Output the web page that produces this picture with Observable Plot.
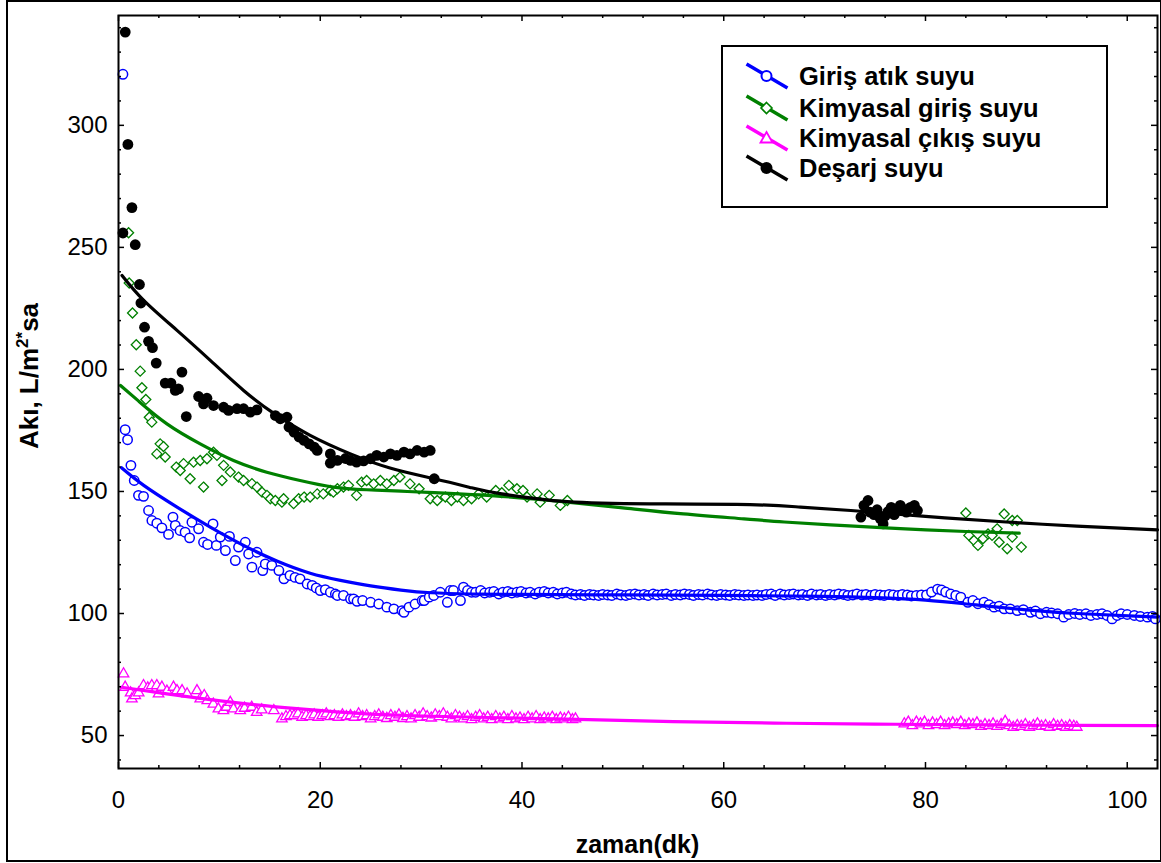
<!DOCTYPE html>
<html>
<head>
<meta charset="utf-8">
<script src="https://cdn.jsdelivr.net/npm/d3@7"></script>
<script src="https://cdn.jsdelivr.net/npm/@observablehq/plot@0.6"></script>
<style>
  body { margin: 0; background: #fff; }
  #wrap { position: relative; width: 1161px; height: 863px; font-family: "Liberation Sans", Arial, sans-serif; }
  #border { position: absolute; left: 6px; top: 0; width: 1156px; height: 862px; border: 2px solid #000; box-sizing: border-box; pointer-events: none; }
  #legend { position: absolute; left: 721px; top: 45px; width: 387px; height: 163px; border: 2.5px solid #000; box-sizing: border-box; background: #fff; }
  .row { position: absolute; left: 22px; height: 30px; display: flex; align-items: center; }
  .row span { margin-left: 10px; font-weight: bold; font-size: 25.5px; line-height: 30px; color: #000; white-space: nowrap; }
</style>
</head>
<body>
<div id="wrap">
  <div id="chart"></div>
  <div id="border"></div>
  <div id="legend"></div>
</div>
<script>
// ---------- data (x = zaman dk, y = Akı L/m2*sa) ----------
const seriesNames = ["Giriş atık suyu", "Kimyasal giriş suyu", "Kimyasal çıkış suyu", "Deşarj suyu"];

const girisAtik = [
  [0.44,320.9],[0.66,175.3],[0.9,171.2],[1.23,160.7],[1.56,154.5],[1.98,148.4],[2.48,148],[2.98,142.2],[3.31,138.1],[3.8,137],
  [4.3,135.1],[4.96,132.4],[5.4,139.5],[5.63,136.1],[6.1,134],[6.6,133.3],[7.05,131],[7.28,137.4],[7.94,134.7],[8.43,129.2],
  [8.83,128.3],[9.37,136.7],[9.7,127.9],[10.09,131.3],[10.6,125.8],[11.0,131.6],[11.58,121.7],[11.9,127.2],[12.57,129.2],[12.9,124.4],
  [13.23,119],[13.73,125.1],[14.3,117.6],[14.55,120.3],[15.2,119.7],[15.9,117.6],[16.4,114.2],[17.0,115.6],[17.5,114.8],[18.0,114.2],
  [18.7,112.1],[19.2,111.5],[19.6,110.5],[20.0,109.4],[20.5,109.8],[21.0,108.7],[21.5,108],[21.7,107.4],[22.3,107.4],[23.0,106],
  [23.3,106],[23.65,105],[24.2,105.3],[25.0,104.6],[25.8,103.9],[26.6,102.6],[27.3,101.9],[28.1,101.2],[28.3,100.5],[28.8,102.6],
  [29.4,103.9],[30.1,105.3],[30.3,105.3],[30.8,106.7],[31.25,107.4],[31.9,108.7],[32.6,104.6],[32.9,109.4],[33.2,109.4],[33.9,105.3],
  [34.2,110.8],[34.6,109.4],[35.0,108.7],
  [35.4,108.7],[35.9,109.4],[36.3,108.4],[36.8,108.7],[37.2,109.0],[37.7,108.0],[38.1,108.7],[38.6,109.0],[39.0,108.4],[39.5,108.7],
  [39.9,109.0],[40.4,108.4],[40.8,108.7],[41.3,108.0],[41.7,108.7],[42.2,109.0],[42.6,108.4],[43.1,108.7],[43.5,108.0],[44.0,108.4],
  [44.4,108.7],[44.9,108.0],[45.3,107.6],[45.8,107.8],[46.2,107.4],[46.7,107.8],[47.1,107.6],[47.6,107.4],[48.0,107.8],[48.5,107.6],
  [48.9,107.4],[49.4,108.0],[49.8,107.6],[50.3,107.4],[50.7,107.8],[51.2,108.0],[51.6,107.6],[52.1,107.8],[52.5,107.4],[53.0,108.0],
  [53.4,107.6],[53.9,107.8],[54.3,108.0],[54.8,107.4],[55.2,107.8],[55.7,107.6],[56.1,108.0],[56.6,107.8],[57.0,107.4],[57.5,107.8],
  [57.9,107.6],[58.4,108.0],[58.8,107.6],[59.3,107.4],[59.7,107.8],[60.2,107.6],[60.6,107.4],[61.1,107.8],[61.5,107.6],[62.0,107.4],
  [62.4,107.6],[62.9,107.4],[63.3,107.6],[63.8,107.4],[64.2,107.8],[64.7,108.0],[65.1,107.4],[65.6,108.0],[66.0,107.6],[66.5,107.8],
  [66.9,108.0],[67.4,107.6],[67.8,107.8],[68.3,107.4],[68.7,108.0],[69.2,107.6],[69.6,107.8],[70.1,107.4],[70.5,107.8],[71.0,107.6],
  [71.4,108.0],[71.9,107.8],[72.3,107.4],[72.8,107.6],[73.2,108.0],[73.7,107.6],[74.1,107.8],[74.6,107.4],[75.0,107.8],[75.5,107.6],
  [75.9,107.4],[76.4,107.8],[76.8,107.6],[77.3,107.4],[77.7,107.8],[78.2,107.6],[78.6,107.2],[79.1,107.4],[79.6,107.6],
  [80.1,107.6],[80.6,108.8],[81.2,110],[81.6,109.6],[82.0,108.8],[82.5,108],[83.0,107.4],[83.5,106.7],[84.2,104.6],[84.7,105.3],
  [85.2,104.0],[85.8,104.6],[86.3,103.6],[86.8,102.6],[87.3,103.0],[87.8,101.9],[88.4,101.9],[89.1,101.2],[89.7,101.6],[90.4,100.5],
  [90.9,101.0],[91.4,99.9],[92.0,100.5],[92.5,100.2],[93.1,99.9],[93.7,98.5],[94.2,99.6],[94.8,100.0],[95.3,99.6],[95.9,99.9],
  [96.4,99.2],[97.0,99.6],[97.5,99.9],[98.0,99.2],[98.5,97.8],[99.0,99.2],[99.4,99.9],[100.0,99.6],[100.7,99.2],[101.3,98.8],
  [102.0,98.5],[102.5,98.8],[102.8,97.8]
];

const kimyasalGiris = [
  [1.0,256],[1.06,235.4],[1.39,223.1],[1.76,210.1],[2.15,199.3],[2.32,192.5],[2.71,187.7],[3.05,180.4],[3.3,178.4],[3.8,165.4],
  [4.13,169.5],[4.46,168.4],[4.63,164.1],[5.72,160],[6.12,158.6],[6.45,161.4],[7.1,155.2],[7.44,162],[8.1,162.7],[8.43,151.8],
  [8.77,163.4],[9.42,166.1],[9.76,164.8],[10.26,154.5],[10.42,160.7],[11.08,158],[11.9,155.9],[12.4,154.5],[13.23,153.2],[13.73,151.8],
  [14.23,149.7],[14.72,148.4],[15.05,147],[15.55,146.3],[16.2,145.6],[16.37,147],[17.36,145],[17.86,147],[18.4,147.7],[19.0,147.7],
  [19.7,149],[20.3,149],[21.0,150.4],[21.3,149.7],[21.7,151.1],[22.3,151.8],[22.8,152.5],[23.6,148.4],[24.1,153.8],[24.6,154.5],
  [25.3,153.1],[25.96,154.5],[26.6,153.1],[27.3,154.5],[27.9,155.9],[28.9,153.1],[29.8,151.1],[30.9,147],[31.6,146.3],[32.4,147.7],
  [33.0,146.3],[33.6,147.7],[34.2,146.3],[35.0,147],[35.7,149],[36.5,147.7],[37.4,150.4],[38.0,149.5],[38.7,152.5],[39.5,151.1],
  [40.1,150.4],[40.5,147.7],[41.5,149],[41.8,145.6],[42.7,148.4],[43.8,144.3],[44.5,146.3],
  [84.0,141.2],[84.3,132],[84.8,129.9],[85.2,127.9],[85.7,130.6],[86.2,132.6],[86.6,132],[87.1,134.7],[87.3,129.2],[87.8,140.8],
  [88.1,126.5],[88.6,131.3],[88.6,138.1],[89.1,138.1],[89.5,127.2]
];

const kimyasalCikis = [
  [0.5,75.3],[0.66,69.8],[1.2,67.5],[1.33,65],[1.66,66.4],[2.0,67.5],[2.48,70.5],[2.9,69.5],[3.3,70.5],[3.8,70.5],
  [3.97,67.1],[4.3,69.8],[4.8,68.2],[5.45,69.8],[5.8,68.4],[6.3,68.4],[6.8,67.1],[7.78,68.4],[8.1,65],[8.5,66.4],
  [8.8,64.3],[9.4,62.9],[9.9,60.9],[10.4,60.2],[10.7,61.6],[11.08,63.6],[11.4,60.9],[12.07,60.2],[12.5,61.2],[13.2,61.6],
  [13.7,59.5],[14.2,60.5],[15.4,60.2],[16.2,56.8],[16.6,57.8],[17.0,58.2],[17.4,58.2],[17.8,58.9],
  [18.2,57.5],[18.6,58.2],[19.0,57.8],[19.4,58.5],[19.8,57.5],[20.2,58.2],[20.6,58.9],[21.0,57.8],[21.4,58.2],[21.8,57.5],
  [22.2,58.5],[22.6,57.8],[23.0,58.2],[23.4,57.5],[23.8,58.9],[24.2,57.8],[24.6,58.2],[25.0,56.8],[25.4,57.8],[25.8,58.5],
  [26.2,57.5],[26.6,57.0],[27.0,58.2],[27.4,57.5],[27.8,58.5],[28.2,57.0],[28.6,57.8],[29.0,56.8],[29.4,58.2],[29.8,57.5],
  [30.2,58.9],[30.6,57.8],[31.0,57.2],[31.4,58.5],[31.8,57.8],[32.2,58.9],[32.6,57.5],[33.0,56.8],[33.4,58.2],[33.8,57.5],
  [34.2,56.8],[34.6,57.8],[35.0,56.5],[35.4,57.5],[35.8,58.2],[36.2,56.8],[36.6,57.5],[37.0,56.5],[37.4,57.8],[37.8,56.8],
  [38.2,57.5],[38.6,56.5],[39.0,57.8],[39.4,56.8],[39.8,57.2],[40.2,56.5],[40.6,57.5],[41.0,56.8],[41.4,57.8],[41.8,56.5],
  [42.2,57.2],[42.6,56.8],[43.0,57.5],[43.4,56.5],[43.8,57.2],[44.2,56.8],[44.6,57.5],[45.0,56.5],[45.3,56.8],
  [77.9,54.8],[78.3,55.5],[78.7,54.1],[79.1,55.5],[79.5,54.8],[79.9,55.5],[80.3,54.1],[80.7,55.2],[81.1,54.5],[81.5,55.5],
  [81.9,54.1],[82.3,54.8],[82.7,55.2],[83.1,54.5],[83.5,55.5],[83.9,54.1],[84.3,54.8],[84.7,54.5],[85.1,55.2],[85.5,53.8],
  [85.9,54.5],[86.3,54.1],[86.7,54.8],[87.1,53.8],[87.5,54.5],[87.9,55.8],[88.3,54.1],[88.7,53.4],[89.1,54.1],[89.5,53.8],
  [89.9,54.5],[90.3,53.4],[90.7,54.1],[91.1,54.8],[91.5,53.8],[91.9,54.1],[92.3,53.4],[92.7,54.5],[93.1,53.8],[93.5,54.1],
  [93.9,53.4],[94.3,54.1],[94.7,53.8],[95.0,53.4]
];

const desarj = [
  [0.44,255.9],[0.67,338.2],[0.93,292.2],[1.33,266.3],[1.66,251.1],[2.08,234.8],[2.22,227.2],[2.58,217.3],[2.98,211.5],[3.37,208.9],
  [3.74,202.6],[4.63,194.4],[5.2,194.4],[5.63,191.4],[5.95,192],[6.29,198.9],[6.72,180.7],[7.94,188.9],[8.43,185.9],[8.77,188.2],
  [9.42,185.2],[10.42,184.5],[10.91,183.2],[11.75,183.9],[12.4,183.9],[13.07,182.5],[13.73,183.4],[15.55,181.1],[16.04,179.8],[16.7,180.4],
  [16.9,176.4],[17.4,174.3],[17.9,172.3],[18.4,170.9],[18.9,169.5],[19.4,168.2],[19.7,166.8],[21.0,165.4],[21.0,161.6],[21.7,162.7],
  [22.5,163.5],[23.0,162.7],[23.6,162.0],[24.3,162.5],[24.98,163.4],[25.6,164.8],[26.3,164.1],[26.96,165.4],[27.6,164.8],[28.3,166.1],
  [28.9,165.4],[29.6,166.8],[30.3,166.1],[30.9,166.8],[31.3,155.2],
  [73.6,139.5],[73.9,144.3],[74.3,146.3],[74.5,141.5],[74.9,140.5],[75.2,142.5],[75.5,139],[75.8,136.7],[76.0,140],[76.3,141.8],
  [76.6,143.5],[76.9,140.5],[77.2,142.5],[77.5,144.3],[77.8,142.8],[78.1,141.5],[78.5,143.5],[78.9,144.3],[79.2,142.2]
];

// fitted curves
const girisAtikFit = [[0.3,159.7],[2.5,152.5],[5.8,143.6],[9.1,135.4],[12.4,127.9],[15.7,121.5],[19,116.5],[22,113.6],[25,111.3],[28,109.6],[31,108.5],[35,108],[40,107.8],[50,107.6],[60,107.4],[70,107],[75,106.5],[80,105.5],[85,103.5],[90,101.5],[95,100],[103,98.5]];
const kimyasalGirisFit = [[0.2,193.4],[2,187],[4.8,177.7],[8.1,169.5],[11.4,162.7],[14.7,157.9],[18,154.5],[21.3,151.8],[24.6,150.7],[28,150.1],[31.3,149.5],[37.9,148],[44,145.8],[50,143.3],[56,140.8],[62,138.8],[66,137.5],[72,136],[78,134.7],[84,133.6],[89.3,132.9]];
const kimyasalCikisFit = [[0.3,69.8],[4.8,67.1],[11.4,63.6],[18,60.9],[24.6,58.9],[31.3,57.9],[37.9,57.3],[45.5,56.6],[55,55.7],[65,55.1],[75,54.7],[85,54.4],[95,54.2],[103,54.1]];
const desarjFit = [[0.35,238.5],[2.5,228.3],[5.8,216],[9.1,203.7],[12.4,191.4],[15.4,182],[19,173],[23,165.4],[27,159.5],[31.3,155.2],[35,151.5],[38,149],[44.5,145.8],[52.7,144.9],[62.6,144.6],[67.6,143.6],[72.6,142.2],[80,139.8],[88,137.5],[95,135.8],[103,134.3]];

// ticks
const xMajor = [0, 20, 40, 60, 80, 100];
const xMinor = [4,8,12,16,24,28,32,36,44,48,52,56,64,68,72,76,84,88,92,96];
const yMajor = [50, 100, 150, 200, 250, 300];
const yMinor = [40,60,70,80,90,110,120,130,140,160,170,180,190,210,220,230,240,260,270,280,290,310,320,330,340];
const xDomain = [0, 103];
const yDomain = [36.5, 345];

// ---------- layout ----------
const W = 1161, H = 863, mL = 118, mR = 4, mT = 15, mB = 95;
const fw = W - mL - mR, fh = H - mT - mB;
const colors = ["#0000ff", "#008000", "#ff00ff", "#000000"];

const pts = a => a.map(([x, y]) => ({x, y}));
const xy = {x: "x", y: "y"};

const plot = Plot.plot({
  width: W, height: H,
  marginLeft: mL, marginRight: mR, marginTop: mT, marginBottom: mB,
  style: {fontFamily: "'Liberation Sans', Arial, sans-serif", fontSize: "24px", color: "#000", background: "transparent", overflow: "visible"},
  x: {domain: xDomain},
  y: {domain: yDomain},
  marks: [
    // points
    Plot.dot(pts(girisAtik), {...xy, symbol: "circle", r: 4.7, stroke: colors[0], strokeWidth: 1.5, fill: "white"}),
    Plot.dot(pts(kimyasalGiris), {...xy, symbol: "diamond2", r: 4.5, stroke: colors[1], strokeWidth: 1.3, fill: "white"}),
    Plot.dot(pts(kimyasalCikis), {...xy, symbol: "triangle2", r: 5, stroke: colors[2], strokeWidth: 1.3, fill: "white"}),
    Plot.dot(pts(desarj), {...xy, symbol: "circle", r: 5.4, fill: colors[3], stroke: "none"}),
    // fitted lines
    Plot.line(pts(girisAtikFit), {...xy, stroke: colors[0], strokeWidth: 3.2, curve: "natural"}),
    Plot.line(pts(kimyasalGirisFit), {...xy, stroke: colors[1], strokeWidth: 3.2, curve: "natural"}),
    Plot.line(pts(kimyasalCikisFit), {...xy, stroke: colors[2], strokeWidth: 3.2, curve: "natural"}),
    Plot.line(pts(desarjFit), {...xy, stroke: colors[3], strokeWidth: 3.2, curve: "natural"}),
    // inward ticks on all four sides
    Plot.tickY(yMajor, {y: d => d, insetRight: fw - 6, stroke: "#000", strokeWidth: 1.5}),
    Plot.tickY(yMajor, {y: d => d, insetLeft: fw - 6, stroke: "#000", strokeWidth: 1.5}),
    Plot.tickY(yMinor, {y: d => d, insetRight: fw - 3, stroke: "#000", strokeWidth: 1.5}),
    Plot.tickY(yMinor, {y: d => d, insetLeft: fw - 3, stroke: "#000", strokeWidth: 1.5}),
    Plot.tickX(xMajor, {x: d => d, insetTop: fh - 6, stroke: "#000", strokeWidth: 1.5}),
    Plot.tickX(xMajor, {x: d => d, insetBottom: fh - 6, stroke: "#000", strokeWidth: 1.5}),
    Plot.tickX(xMinor, {x: d => d, insetTop: fh - 3, stroke: "#000", strokeWidth: 1.5}),
    Plot.tickX(xMinor, {x: d => d, insetBottom: fh - 3, stroke: "#000", strokeWidth: 1.5}),
    Plot.frame({stroke: "#000", strokeWidth: 2}),
    // tick labels
    Plot.axisY({ticks: yMajor, tickSize: 0, tickPadding: 11, label: null, tickFormat: d => String(d)}),
    Plot.axisX({ticks: xMajor, tickSize: 0, tickPadding: 22, label: null, tickFormat: d => String(d)})
  ]
});
document.getElementById("chart").appendChild(plot);

// axis titles
const svg = d3.select(plot);
const yt = svg.append("text")
  .attr("transform", "translate(38,376) rotate(-90)")
  .attr("text-anchor", "middle")
  .attr("font-weight", "bold").attr("font-size", 26).attr("fill", "#000");
yt.append("tspan").text("Akı, L/m");
yt.append("tspan").attr("dy", -10).attr("font-size", 17).text("2*");
yt.append("tspan").attr("dy", 10).text("sa");
svg.append("text")
  .attr("x", mL + fw / 2).attr("y", 853)
  .attr("text-anchor", "middle")
  .attr("font-weight", "bold").attr("font-size", 25).attr("fill", "#000")
  .text("zaman(dk)");

// legend
const legend = document.getElementById("legend");
const rowTops = [14, 45.5, 75.5, 106];
const symbols = [
  c => `<circle cx="21.5" cy="15" r="5" fill="white" stroke="${c}" stroke-width="2"/>`,
  c => `<path d="M21.5,9.5L27,15L21.5,20.5L16,15Z" fill="white" stroke="${c}" stroke-width="1.6"/>`,
  c => `<path d="M21.5,9L27.5,19.5L15.5,19.5Z" fill="white" stroke="${c}" stroke-width="1.8"/>`,
  c => `<circle cx="21.5" cy="15" r="6" fill="${c}"/>`
];
seriesNames.forEach((name, i) => {
  const row = document.createElement("div");
  row.className = "row";
  row.style.top = rowTops[i] + "px";
  row.innerHTML = `<svg width="44" height="30"><line x1="1.5" y1="3" x2="42.5" y2="27" stroke="${colors[i]}" stroke-width="3.5"/>${symbols[i](colors[i])}</svg><span>${name}</span>`;
  legend.appendChild(row);
});
</script>
</body>
</html>
